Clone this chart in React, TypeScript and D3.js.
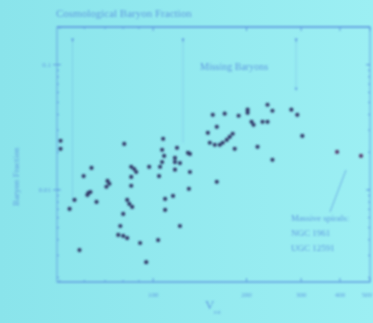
import * as d3 from "d3";

// rotation velocity (km/s) and baryon fraction of each galaxy
const vrot = [
  50.3, 50.3, 80.7, 107.7, 119.4, 106.9, 108.5, 106.9, 105.3, 129.5,
  131.4, 117.6, 117.6, 122, 117.6, 131.4, 104.5, 97.1, 85.0, 86.9,
  88.2, 85.0, 85.0, 63.3, 59.7, 71.3, 72.3, 70.7, 61.9, 62.8,
  61.4, 55.8, 65.7, 53.8, 82.5, 83.8, 85.6, 80.1, 109.3, 115.9,
  109.3, 130.4, 160.4, 78.4, 77.2, 80.1, 82.5, 90.8, 95.0, 103.8,
  122, 57.9, 155.7, 170.1, 188.6, 201.6, 201.6, 207.6, 210.7, 225.2,
  233.7, 233.7, 242.4, 279, 291.5, 302.6, 160.4, 150.1, 152.3, 158,
  164, 167.6, 172.7, 176.5, 180.5, 183.2, 217, 242.4, 391.7, 467.7,
];
const fb = [
  0.0247, 0.0213, 0.0233, 0.0256, 0.0217, 0.0209, 0.0187, 0.0167, 0.0153, 0.0198,
  0.0194, 0.018, 0.0167, 0.0164, 0.0145, 0.0139, 0.0129, 0.0153, 0.0153, 0.0147,
  0.0139, 0.0127, 0.0108, 0.015, 0.0129, 0.0118, 0.0112, 0.0106, 0.00946, 0.00963,
  0.00912, 0.00832, 0.00802, 0.00705, 0.00832, 0.00773, 0.00731, 0.00643, 0.00847, 0.00895,
  0.00692, 0.0102, 0.0116, 0.00515, 0.00437, 0.00429, 0.00413, 0.00377, 0.00265, 0.00398,
  0.00515, 0.00331, 0.0398, 0.0406, 0.0391, 0.0437, 0.0413, 0.035, 0.0331, 0.035,
  0.035, 0.0479, 0.0429, 0.0437, 0.0398, 0.027, 0.0319, 0.0286, 0.0238, 0.0229,
  0.0229, 0.0238, 0.0251, 0.0265, 0.0281, 0.0213, 0.0221, 0.0174, 0.0201, 0.0187,
];

// vertical marker lines: velocity, top and bottom fraction
const markerV = [55.0, 124.8, 289];
const markerTop = [0.153, 0.153, 0.153];
const markerBottom = [0.0083, 0.0238, 0.0655];

const xLabels = [100, 200, 300, 400, 500];
const yLabels = [0.1, 0.01];
const spiralNotes = ["Massive spirals:", "NGC 1961", "UGC 12591"];

export default function App() {
  const W = 373, H = 323;
  const m = { left: 57, right: 3, top: 27, bottom: 41 };

  const x = d3.scaleLog().domain([49, 500]).range([m.left, W - m.right]);
  const y = d3.scaleLog().domain([0.00184, 0.2]).range([H - m.bottom, m.top]);

  const ink = "#5f9ae0";
  const dot = "#333868";
  const serif = "'Liberation Serif', 'DejaVu Serif', serif";
  const x0 = m.left, x1 = W - m.right, y0 = H - m.bottom, y1 = m.top;

  const xt = x.ticks();
  const yt = y.ticks();

  return (
    <svg width={W} height={H} style={{ position: "absolute", left: 0, top: 0 }} fontFamily={serif}>
      <defs>
        <linearGradient id="bg" x1="0" x2="1" y1="0" y2="0">
          <stop offset="0" stopColor="#8ae4eb" />
          <stop offset="1" stopColor="#9ceff3" />
        </linearGradient>
        <filter id="soft" x="-5%" y="-5%" width="110%" height="110%">
          <feGaussianBlur stdDeviation="0.8" />
        </filter>
      </defs>
      <rect width={W} height={H} fill="url(#bg)" />
      <g filter="url(#soft)">
        <text x={56} y={17} fontSize={11} fill={ink}>Cosmological Baryon Fraction</text>

        {/* frame */}
        <rect x={x0} y={y1} width={x1 - x0} height={y0 - y1} fill="none" stroke={ink} strokeWidth={0.9} />
        <line x1={x0} x2={x1} y1={y1} y2={y1} stroke={ink} strokeWidth={1.4} />
        <line x1={x0} x2={x1} y1={y0} y2={y0} stroke={ink} strokeWidth={1.2} />

        {/* ticks */}
        {xt.map((t, i) => (
          <g key={"xt" + i}>
            <line x1={x(t)} x2={x(t)} y1={y0} y2={y0 - (xLabels.includes(t) ? 4 : 2)} stroke={ink} />
            <line x1={x(t)} x2={x(t)} y1={y1} y2={y1 + (xLabels.includes(t) ? 4 : 2)} stroke={ink} />
          </g>
        ))}
        {yt.map((t, i) => (
          <g key={"yt" + i}>
            <line x1={x0} x2={x0 + 2} y1={y(t)} y2={y(t)} stroke={ink} />
            <line x1={x1} x2={x1 - 2} y1={y(t)} y2={y(t)} stroke={ink} />
          </g>
        ))}
        {yLabels.map((t) => (
          <g key={"yl" + t}>
            <line x1={x0 - 4} x2={x0 + 4} y1={y(t)} y2={y(t)} stroke={ink} />
            <line x1={x1 - 4} x2={x1} y1={y(t)} y2={y(t)} stroke={ink} />
            <text x={x0 - 6} y={y(t) + 2.5} fontSize={7} textAnchor="end" fill={ink}>{t}</text>
          </g>
        ))}
        {xLabels.map((t, i) => (
          <text key={"xl" + t} x={i === xLabels.length - 1 ? W - 1 : x(t)} y={y0 + 15} fontSize={7}
            textAnchor={i === xLabels.length - 1 ? "end" : "middle"} fill={ink}>{t}</text>
        ))}

        {/* axis titles */}
        <text transform={`translate(19,${(y0 + y1) / 2 + 22}) rotate(-90)`} fontSize={9} textAnchor="middle" fill={ink}>
          Baryon Fraction
        </text>
        <text x={205} y={309} fontSize={13} fill={ink}>V</text>
        <text x={214} y={314} fontSize={6} fill={ink}>rot</text>

        {/* marker lines */}
        {markerV.map((v, i) => (
          <g key={"mk" + i}>
            <line x1={x(v)} x2={x(v)} y1={y(markerTop[i])} y2={y(markerBottom[i])} stroke={ink} strokeWidth={0.6} opacity={0.55} />
            <path d={`M${x(v) - 1.5},${y(markerTop[i]) - 3} L${x(v) + 1.5},${y(markerTop[i]) - 3} L${x(v)},${y(markerTop[i]) + 1} Z`} fill={ink} />
          </g>
        ))}
        <path d={`M${x(289) - 1.5},${y(0.0655)} L${x(289) + 1.5},${y(0.0655)} L${x(289)},${y(0.0655) + 3} Z`} fill={ink} />
        <text x={200} y={70} fontSize={10} fill={ink}>Missing Baryons</text>

        {/* spirals note */}
        <line x1={330} y1={212} x2={346} y2={170} stroke={ink} strokeWidth={0.8} />
        {spiralNotes.map((s, i) => (
          <text key={s} x={291} y={221 + i * 15} fontSize={9} fill={ink}>{s}</text>
        ))}

        {/* galaxies */}
        {vrot.map((v, i) => (
          <circle key={"p" + i} cx={x(v)} cy={y(fb[i])} r={2.1} fill={i >= 78 ? "#5a3a6e" : dot} />
        ))}
      </g>
    </svg>
  );
}
